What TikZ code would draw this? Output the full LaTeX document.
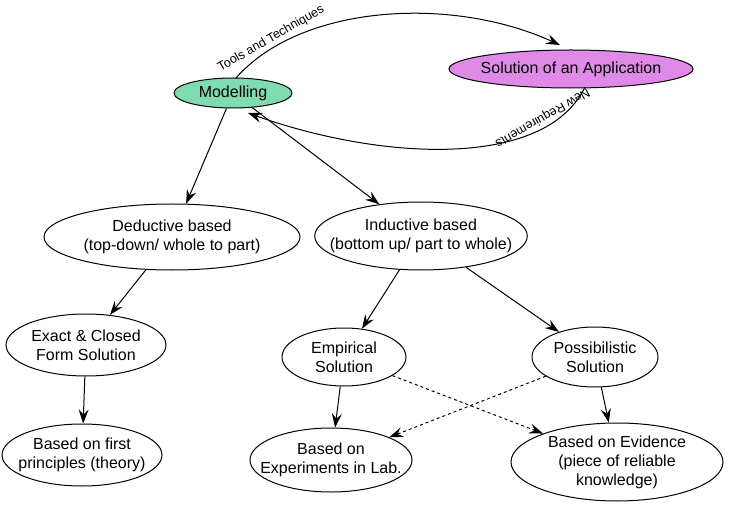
\documentclass[tikz,border=0pt]{standalone}
\usepackage{fontspec}
\setmainfont{Liberation Sans}
\usetikzlibrary{shapes.geometric,arrows.meta}
\begin{document}
\begin{tikzpicture}[x=1pt,y=-1pt,
  el/.style={ellipse,draw,line width=1pt,align=center,inner xsep=-16pt,inner ysep=-4pt,font=\fontsize{16}{19}\selectfont},
  ar/.style={-{Stealth[length=14pt,width=10pt,inset=5pt]},line width=1pt},
  lbl/.style={font=\fontsize{12.5}{14}\selectfont}]
\useasboundingbox (0,0) rectangle (741,521);
\definecolor{mgreen}{HTML}{7EDCB0}
\definecolor{mviolet}{HTML}{E08AE8}
\node[el,fill=mgreen,minimum width=118,minimum height=30] (mod) at (233,93) {Modelling};
\node[el,fill=mviolet,minimum width=244,minimum height=38] (sol) at (571,69) {Solution of an Application};
\node[el,minimum width=256,minimum height=66] (ded) at (172,237) {Deductive based\\(top-down/ whole to part)};
\node[el,minimum width=212,minimum height=68] (ind) at (421,236) {Inductive based\\(bottom up/ part to whole)};
\node[el,minimum width=160,minimum height=62] (ex) at (86,345) {Exact \& Closed\\Form Solution};
\node[el,minimum width=124,minimum height=58] (emp) at (344,357) {Empirical\\Solution};
\node[el,minimum width=126,minimum height=60] (pos) at (595,357) {Possibilistic\\Solution};
\node[el,minimum width=160,minimum height=62] (fp) at (82,455) {Based on first\\principles (theory)};
\node[el,minimum width=162,minimum height=64] (lab) at (331,460) {Based on\\Experiments in Lab.};
\node[el,minimum width=212,minimum height=78] (evi) at (617,462) {Based on Evidence\\(piece of reliable\\knowledge)};
\draw[ar] (mod) -- (ded);
\draw[ar] (mod) -- (ind);
\draw[ar] (ded) -- (ex);
\draw[ar] (ex) -- (fp);
\draw[ar] (ind) -- (emp);
\draw[ar] (ind) -- (pos);
\draw[ar] (emp) -- (lab);
\draw[ar] (pos) -- (evi);
\draw[ar,dashed] (emp) -- (evi);
\draw[ar,dashed] (pos) -- (lab);
\coordinate (t1) at (236,78);
\coordinate (t2) at (560,45);
\coordinate (r1) at (585,87);
\coordinate (r2) at (248,113);
\draw[ar] (t1) .. controls (300,5) and (450,-5) .. (t2)
  node[lbl,pos=0.17,sloped,above=-1pt] {Tools and Techniques};
\draw[ar] (r1) .. controls (545,170) and (380,160) .. (r2)
  node[lbl,pos=0.2,sloped,below=0pt,allow upside down] {New Requirements};
\end{tikzpicture}
\end{document}
